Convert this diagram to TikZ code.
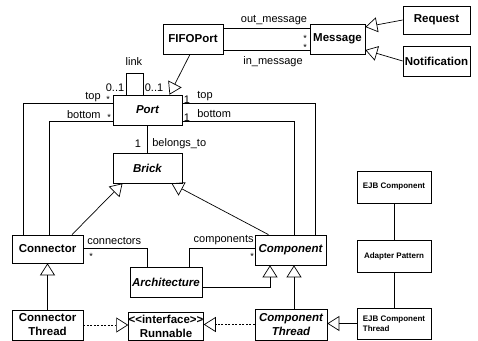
\documentclass[tikz,border=0pt]{standalone}
\usepackage{fontspec}
\setmainfont{Liberation Sans}
\usetikzlibrary{arrows.meta}

\begin{document}
\begin{tikzpicture}[x=1pt,y=-1pt,line width=.7pt,
  cls/.style={draw,rectangle,inner sep=0pt,align=center,
    font=\fontsize{11.5}{14}\selectfont\bfseries},
  abs/.style={cls,font=\fontsize{11.5}{14}\selectfont\bfseries\itshape},
  ejb/.style={cls,minimum width=74pt,font=\fontsize{8}{10}\selectfont\bfseries},
  lbl/.style={inner sep=0pt,font=\fontsize{11}{13}\selectfont},
  mult/.style={inner sep=0pt,font=\fontsize{9}{9}\selectfont},
  inherit/.style={-{Triangle[open,length=12pt,width=15pt]}},
  realize/.style={inherit,dash pattern=on 2pt off 1.5pt}]
  \useasboundingbox (0,0) rectangle (478,340);

  % classes
  \node[cls,minimum width=60pt,minimum height=30pt] (fifo) at (193,39) {FIFOPort};
  \node[cls,minimum width=55pt,minimum height=30pt] (message) at (337.5,39) {Message};
  \node[cls,minimum width=67pt,minimum height=28pt] (request) at (436.5,20) {Request};
  \node[cls,minimum width=67pt,minimum height=30pt] (notification) at (436.5,61) {Notification};
  \node[abs,minimum width=69pt,minimum height=30pt] (port) at (147.5,110) {Port};
  \node[abs,minimum width=69pt,minimum height=30pt] (brick) at (147.5,168) {Brick};
  \node[cls,minimum width=71pt,minimum height=28pt] (connector) at (47.5,249) {Connector};
  \node[cls,minimum width=71pt,minimum height=30pt] (connthread) at (47.5,325) {Connector\\Thread};
  \node[abs,minimum width=72pt,minimum height=30pt] (architecture) at (166,282) {Architecture};
  \node[cls,minimum width=72pt,minimum height=28pt] (runnable) at (166,326) {<{}<interface>{}>\\Runnable};
  \node[abs,minimum width=71pt,minimum height=30pt] (component) at (290.5,250) {Component};
  \node[abs,minimum width=72pt,minimum height=31pt] (compthread) at (291,324.5) {Component\\Thread};
  \node[ejb,minimum height=32pt] (ejbcomp) at (394,187) {EJB Component};
  \node[ejb,minimum height=32pt] (adapter) at (394,256) {Adapter Pattern};
  \node[ejb,minimum height=31pt,align=left] (ejbthread) at (394,323.5) {EJB Component\\Thread};

  % FIFOPort -- Message
  \draw ([yshift=11pt]fifo.east) -- ([yshift=11pt]fifo.east -| message.west);
  \draw ([yshift=-11pt]fifo.east) -- ([yshift=-11pt]fifo.east -| message.west);
  \node[lbl] (outmsg) at (274,20) {out\_message};
  \node[lbl] (inmsg) at (273,62) {in\_message};
  \node[mult] (outstar) at (305,38) {*};
  \node[mult] (instar) at (305,47) {*};

  \draw[inherit] (request.west) -- ([yshift=12pt]message.east);
  \draw[inherit] (notification.west) -- ([yshift=-11pt]message.east);
  \draw[inherit] ([xshift=-3pt]fifo.south) -- ([xshift=22pt]port.north);

  % link
  \coordinate (linktop) at (143,73);
  \draw ([xshift=-21.5pt]port.north) |- (linktop) -- ([xshift=-4.5pt]port.north);
  \node[lbl] (link) at (134,62) {link};
  \node[lbl] (linkl) at (115,88) {0..1};
  \node[lbl] (linkr) at (154,88) {0..1};

  % top / bottom
  \draw ([yshift=7pt]port.west) -| ([xshift=-24.5pt]connector.north);
  \draw ([yshift=-11pt]port.west) -| ([xshift=1.5pt]connector.north);
  \draw ([yshift=7pt]port.east) -| ([xshift=24.5pt]component.north);
  \draw ([yshift=-11pt]port.east) -| ([xshift=3.5pt]component.north);
  \node[lbl,anchor=east] (ltop) at (101,97) {top};
  \node[lbl,anchor=east] (lbot) at (101,115) {bottom};
  \node[mult] (ltopstar) at (108,99) {*};
  \node[mult] (lbotstar) at (109,117) {*};
  \node[lbl] (rtopone) at (187,100) {1};
  \node[lbl] (rbotone) at (187,118) {1};
  \node[lbl,anchor=west] (rtop) at (197,96) {top};
  \node[lbl,anchor=west] (rbot) at (197,114) {bottom};

  % belongs_to
  \draw (port) -- (brick);
  \node[lbl] (brickone) at (138,144) {1};
  \node[lbl,anchor=west] (belongs) at (152,144) {belongs\_to};

  \draw[inherit] ([xshift=24.5pt]connector.north) -- ([xshift=-25pt]brick.south);
  \draw[inherit] ([xshift=-22pt]component.north) -- ([xshift=24pt]brick.south);
  \draw[inherit] (connthread.north) -- (connector.south);
  \draw[inherit] ([xshift=3pt]compthread.north) -- ([xshift=3.5pt]component.south);

  % architecture
  \draw ([yshift=1pt]connector.east) -| ([xshift=-19pt]architecture.north);
  \draw ([yshift=2pt]component.west) -| ([xshift=23pt]architecture.north);
  \draw[inherit] ([yshift=-5pt]architecture.east) -| ([xshift=-20.5pt]component.south);
  \node[lbl,anchor=west] (conns) at (87,241) {connectors};
  \node[lbl,anchor=east] (comps) at (254,240) {components};
  \node[mult] (connstar) at (91,256) {*};
  \node[mult] (compstar) at (252,256) {*};

  % threads
  \draw[realize] (connthread.east) -- (connthread.east -| runnable.west);
  \draw[realize] (compthread.west) -- (compthread.west -| runnable.east);
  \draw[inherit] (ejbthread.west) -- (ejbthread.west -| compthread.east);
  \draw (ejbcomp) -- (adapter);
  \draw (adapter) -- (ejbthread);
\end{tikzpicture}
\end{document}
